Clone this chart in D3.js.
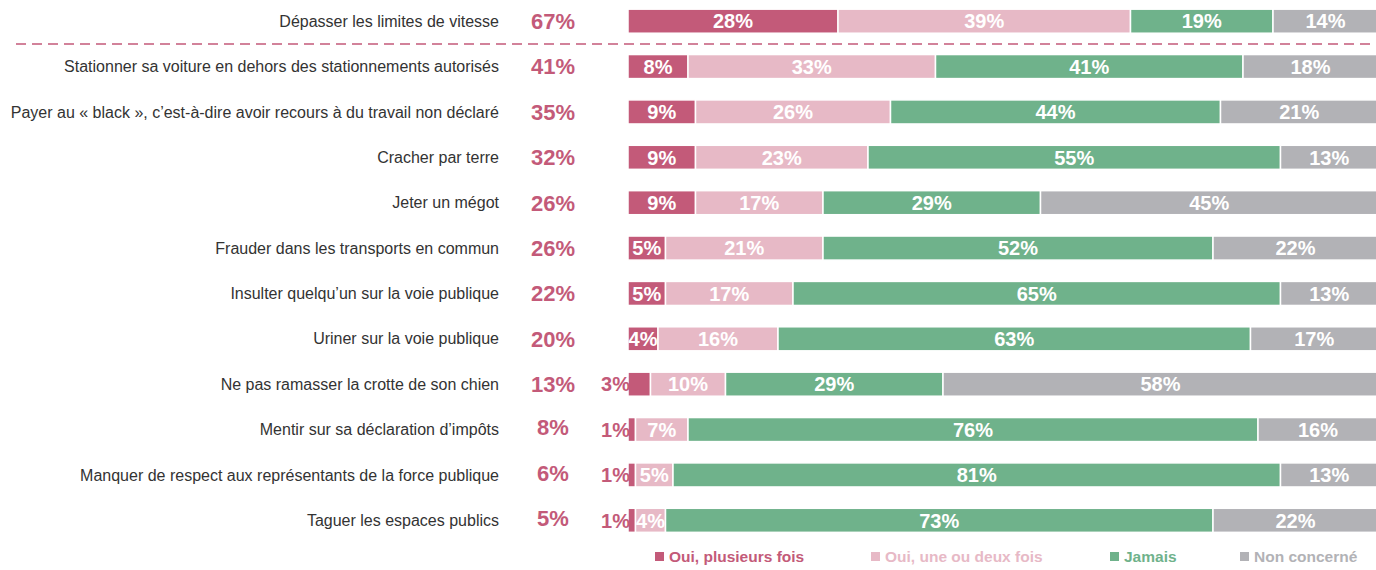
<!DOCTYPE html>
<html>
<head>
<meta charset="utf-8">
<script src="https://cdn.jsdelivr.net/npm/d3@7"></script>
<style>
  html, body { margin: 0; padding: 0; background: #fff; }
  svg { display: block; font-family: "Liberation Sans", Arial, sans-serif; }
</style>
</head>
<body>
<svg id="chart" width="1376" height="570"></svg>
<script>
// Behaviours surveyed
const categories = [
  "Dépasser les limites de vitesse",
  "Stationner sa voiture en dehors des stationnements autorisés",
  "Payer au « black », c’est-à-dire avoir recours à du travail non déclaré",
  "Cracher par terre",
  "Jeter un mégot",
  "Frauder dans les transports en commun",
  "Insulter quelqu’un sur la voie publique",
  "Uriner sur la voie publique",
  "Ne pas ramasser la crotte de son chien",
  "Mentir sur sa déclaration d’impôts",
  "Manquer de respect aux représentants de la force publique",
  "Taguer les espaces publics"
];

// Share who did it at least once (total "Oui")
const totals = [67, 41, 35, 32, 26, 26, 22, 20, 13, 8, 6, 5];

// Answer breakdown (%)
const ouiPlusieurs = [28, 8, 9, 9, 9, 5, 5, 4, 3, 1, 1, 1];
const ouiUneDeux   = [39, 33, 26, 23, 17, 21, 17, 16, 10, 7, 5, 4];
const jamais       = [19, 41, 44, 55, 29, 52, 65, 63, 29, 76, 81, 73];
const nonConcerne  = [14, 18, 21, 13, 45, 22, 13, 17, 58, 16, 13, 22];

const seriesNames  = ["Oui, plusieurs fois", "Oui, une ou deux fois", "Jamais", "Non concerné"];
const seriesKeys   = ["p", "u", "j", "n"];
const seriesColors = ["#c35a79", "#e7b9c6", "#6fb28b", "#b2b2b6"];

const rows = categories.map((c, i) => ({
  cat: c, total: totals[i],
  p: ouiPlusieurs[i], u: ouiUneDeux[i], j: jamais[i], n: nonConcerne[i]
}));

const svg = d3.select("#chart");

const barLeft = 628, barRight = 1378;
const x = d3.scaleLinear().domain([0, 100]).range([barLeft, barRight]);
const y = d3.scaleBand()
  .domain(categories)
  .range([-1.5, 543])
  .paddingInner(0.47)
  .paddingOuter(0.235);

const color = d3.scaleOrdinal().domain(seriesKeys).range(seriesColors);

const stack = d3.stack().keys(seriesKeys);
const stacked = stack(rows);

// Category labels
svg.append("g").selectAll("text")
  .data(rows).join("text")
  .attr("x", 499)
  .attr("y", d => y(d.cat) + y.bandwidth() / 2)
  .attr("dy", "0.35em")
  .attr("text-anchor", "end")
  .attr("fill", "#333333")
  .attr("font-size", 16)
  .text(d => d.cat);

// Total "Oui" column
svg.append("g").selectAll("text")
  .data(rows).join("text")
  .attr("x", 553)
  .attr("y", (d, i) => y(d.cat) + y.bandwidth() / 2 - (d.total < 10 ? 2 : 0))
  .attr("dy", "0.36em")
  .attr("text-anchor", "middle")
  .attr("fill", seriesColors[0])
  .attr("font-size", 22)
  .attr("font-weight", "bold")
  .text(d => d.total + "%");

// Stacked segments
const layers = svg.append("g").selectAll("g")
  .data(stacked).join("g")
  .attr("fill", d => color(d.key));

layers.selectAll("rect")
  .data(d => d.map(v => ({ v, key: d.key })))
  .join("rect")
  .attr("x", d => x(d.v[0]))
  .attr("y", d => y(d.v.data.cat))
  .attr("width", d => x(d.v[1]) - x(d.v[0]))
  .attr("height", y.bandwidth())
  .attr("stroke", "#fff")
  .attr("stroke-width", 1.5);

// Segment value labels
const labels = [];
stacked.forEach(layer => {
  layer.forEach(v => {
    const val = v[1] - v[0];
    labels.push({ key: layer.key, cat: v.data.cat, val, x0: v[0], x1: v[1] });
  });
});

svg.append("g").selectAll("text")
  .data(labels).join("text")
  .attr("x", d => d.val < 4 ? x(d.x0) + 2 : x((d.x0 + d.x1) / 2))
  .attr("y", d => y(d.cat) + y.bandwidth() / 2)
  .attr("dy", "0.36em")
  .attr("text-anchor", d => d.val < 4 ? "end" : "middle")
  .attr("fill", d => d.val < 4 ? seriesColors[0] : "#ffffff")
  .attr("font-size", 20)
  .attr("font-weight", "bold")
  .text(d => d.val + "%");

// Divider under the first behaviour
svg.append("line")
  .attr("x1", 16).attr("x2", 1376)
  .attr("y1", 44).attr("y2", 44)
  .attr("stroke", seriesColors[0])
  .attr("stroke-width", 1.5)
  .attr("stroke-dasharray", "10,6");

// Legend
const legendX = [655, 871, 1110, 1240];
const legend = svg.append("g").selectAll("g")
  .data(seriesNames).join("g")
  .attr("transform", (d, i) => `translate(${legendX[i]},557)`);

legend.append("rect")
  .attr("x", 0).attr("y", -5)
  .attr("width", 9).attr("height", 9)
  .attr("fill", (d, i) => seriesColors[i]);

legend.append("text")
  .attr("x", 14)
  .attr("dy", "0.35em")
  .attr("fill", (d, i) => seriesColors[i])
  .attr("font-size", 15.5)
  .attr("font-weight", "bold")
  .text(d => d);
</script>
</body>
</html>
